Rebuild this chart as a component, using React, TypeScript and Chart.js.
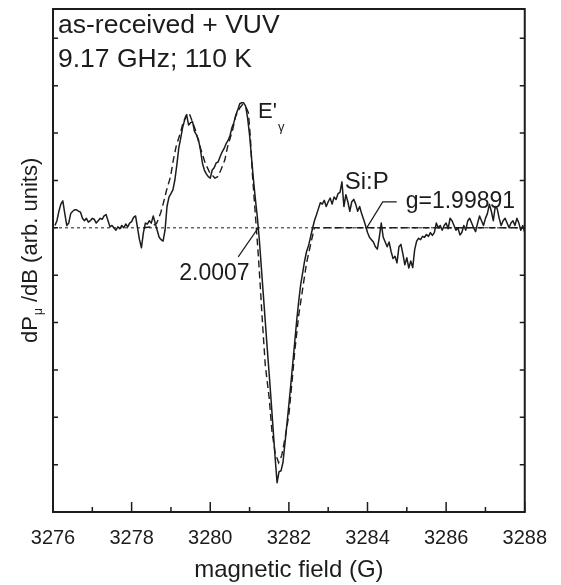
import React, { useEffect, useRef } from "react";
import { Chart, registerables } from "chart.js";

Chart.register(...registerables);

// ---------- data ----------
const fieldStart = 3276.05;
const fieldStep = 0.05;

// measured EPR derivative spectrum (arb. units), one value per field step
const spectrumValues = [
  0.05, 0.15, 0.35, 0.5, 0.57, 0.3, 0.05, 0.1, 0.3, 0.35,
  0.38, 0.38, 0.35, 0.33, 0.2, 0.15, 0.2, 0.12, 0.15, 0.2,
  0.18, 0.1, 0.15, 0.2, 0.18, 0.25, 0.28, 0.15, 0.02, 0.05,
  0.0, -0.05, 0.02, -0.02, 0.05, 0.0, 0.08, 0.02, 0.1, 0.13,
  0.22, 0.25, 0.0, -0.25, -0.42, -0.1, 0.1, 0.08, 0.15, 0.1,
  0.25, 0.1, -0.05, -0.2, -0.25, -0.28, -0.05,
  0.45, 0.65, 0.72, 0.8, 1.01, 1.33, 1.69, 1.9, 2.13, 2.28,
  2.38, 2.17, 2.22, 2.24, 2.03, 1.96, 1.86, 1.65, 1.37, 1.22,
  1.14, 1.08, 1.05, 1.22, 1.27, 1.37, 1.39, 1.5, 1.6, 1.67,
  1.77, 1.84, 1.94, 2.11, 2.22, 2.38, 2.49, 2.62, 2.64, 2.64,
  2.57, 2.32, 1.96, 1.48, 1.01, 0.59, 0.21, -0.27, -0.84, -1.41,
  -1.98, -2.55, -3.1, -3.67, -4.26, -4.85, -5.38, -5.15, -5.13, -4.95,
  -4.55, -4.15, -3.73, -3.3, -2.85, -2.4, -1.95, -1.55, -1.2, -0.95,
  -0.7, -0.5, -0.38, -0.2, -0.02, 0.15, 0.27, 0.4, 0.53, 0.5,
  0.58, 0.45, 0.55, 0.63, 0.5, 0.65, 0.6, 0.72, 0.75, 0.97,
  0.45, 0.7, 0.55, 0.35, 0.55, 0.6, 0.5, 0.35, 0.45, 0.3,
  0.18, 0.05, -0.1, -0.2, -0.25, -0.3, -0.4, -0.45, -0.2, 0.1,
  -0.2, -0.3, -0.4, -0.3, -0.5, -0.65, -0.6, -0.74, -0.4, -0.35,
  -0.55, -0.78, -0.63, -0.85, -0.7, -0.84, -0.46, -0.28, -0.22, -0.25,
  -0.18, -0.2, -0.14, -0.18, -0.1, -0.16, -0.1, 0.1, 0.0, 0.05,
  -0.05, 0.05, 0.1, -0.02, 0.2, 0.15, 0.05, -0.05, 0.0, -0.15,
  -0.1, 0.05, -0.05, 0.15, 0.2, 0.1, 0.0, -0.08, 0.1, 0.25,
  0.15, 0.05, 0.2, 0.3, 0.5, 0.35, 0.15, 0.45, 0.4, 0.2,
  0.05, 0.15, 0.2, 0.1, 0.0, 0.1, 0.15, 0.05, 0.2, 0.1,
  -0.05, 0.05, -0.1,
];

// simulated fit (dashed)
const fitFields = [
  3278.3, 3278.5, 3278.64, 3278.74, 3278.81, 3278.89, 3278.99, 3279.06, 3279.14, 3279.24,
  3279.31, 3279.39, 3279.46, 3279.51, 3279.62, 3279.74, 3279.87, 3279.99, 3280.12, 3280.19,
  3280.27, 3280.37, 3280.44, 3280.57, 3280.64, 3280.75, 3280.82, 3280.9, 3280.97, 3281.02,
  3281.07, 3281.12, 3281.17, 3281.22, 3281.27, 3281.32, 3281.4, 3281.5, 3281.57, 3281.65,
  3281.74, 3281.82, 3281.9, 3282.0, 3282.08, 3282.15, 3282.25, 3282.33, 3282.45, 3282.58,
  3282.65, 3283.5, 3288.0,
];
const fitValues = [
  0, 0.02, 0.1, 0.32, 0.53, 0.8, 1.08, 1.43, 1.75, 2.0,
  2.22, 2.38, 2.43, 2.32, 2.07, 1.71, 1.37, 1.16, 1.05, 1.08,
  1.22, 1.43, 1.71, 2.07, 2.34, 2.53, 2.6, 2.57, 2.43, 1.92,
  1.16, 0.59, 0.02, -0.55, -1.2, -1.9, -2.9, -3.6, -4.3, -4.75,
  -4.96, -4.8, -4.45, -3.95, -3.25, -2.6, -1.85, -1.4, -0.74, -0.25,
  0, 0, 0,
];

const baselineFields = [3276, 3288];
const baselineValues = [0, 0];

const xMajorTicks = [3276, 3278, 3280, 3282, 3284, 3286, 3288];
const xMinorTicks = [3277, 3279, 3281, 3283, 3285, 3287];
const yTicks = [-6, -5, -4, -3, -2, -1, 0, 1, 2, 3, 4];

const headerLines = ["as-received + VUV", "9.17 GHz; 110 K"];
const crossingLabel = "2.0007";
const crossingField = 3281.22;
const siLabel = "Si:P";
const gLabel = "g=1.99891";
const gField = 3283.98;
const xTitle = "magnetic field (G)";

const FONT = '"Liberation Sans", Arial, Helvetica, sans-serif';
const INK = "#1c1c1c";

const overlayPlugin = {
  id: "overlay",
  afterDatasetsDraw(chart: any) {
    const { ctx, chartArea, scales } = chart;
    const xs = scales.x;
    const ys = scales.y;
    const { left, right, top, bottom } = chartArea;
    ctx.save();
    ctx.strokeStyle = INK;
    ctx.fillStyle = INK;

    // frame
    ctx.lineWidth = 2;
    ctx.strokeRect(left, top, right - left, bottom - top);

    // x ticks (inward)
    ctx.lineWidth = 1.5;
    ctx.beginPath();
    xMajorTicks.forEach((v) => {
      const px = xs.getPixelForValue(v);
      ctx.moveTo(px, bottom);
      ctx.lineTo(px, bottom - 10);
    });
    xMinorTicks.forEach((v) => {
      const px = xs.getPixelForValue(v);
      ctx.moveTo(px, bottom);
      ctx.lineTo(px, bottom - 5);
    });
    // y ticks left & right (inward)
    yTicks.forEach((v) => {
      const py = ys.getPixelForValue(v);
      ctx.moveTo(left, py);
      ctx.lineTo(left + 5, py);
      ctx.moveTo(right, py);
      ctx.lineTo(right - 5, py);
    });
    ctx.stroke();

    // header text
    ctx.font = `26.5px ${FONT}`;
    ctx.textBaseline = "alphabetic";
    ctx.textAlign = "left";
    ctx.fillText(headerLines[0], left + 5, top + 24);
    ctx.fillText(headerLines[1], left + 5, top + 58);

    // 2.0007 pointer
    const cx = xs.getPixelForValue(crossingField);
    const cy = ys.getPixelForValue(0);
    ctx.lineWidth = 1.2;
    ctx.beginPath();
    ctx.moveTo(cx, cy);
    ctx.lineTo(cx - 20, cy + 29);
    ctx.stroke();
    ctx.font = `23px ${FONT}`;
    ctx.fillText(crossingLabel, cx - 79, cy + 52);

    // g pointer
    const gx = xs.getPixelForValue(gField);
    const gy = ys.getPixelForValue(0);
    ctx.beginPath();
    ctx.moveTo(gx, gy);
    ctx.lineTo(gx + 16, gy - 26);
    ctx.lineTo(gx + 30, gy - 26);
    ctx.stroke();
    ctx.fillText(gLabel, gx + 39, gy - 20);

    // Si:P
    ctx.font = `24px ${FONT}`;
    ctx.fillText(siLabel, gx - 22, gy - 39);

    // E'_gamma
    ctx.font = `22px ${FONT}`;
    ctx.fillText("E'", 258, top + 109);
    ctx.font = `13px ${FONT}`;
    ctx.fillText("\u03b3", 278, top + 122);

    // y-axis title with subscript
    ctx.translate(37, 343);
    ctx.rotate(-Math.PI / 2);
    ctx.font = `22px ${FONT}`;
    ctx.fillText("dP", 0, 0);
    const w1 = ctx.measureText("dP").width;
    ctx.font = `12px ${FONT}`;
    ctx.fillText("\u03bc", w1 + 1, 5);
    const w2 = ctx.measureText("\u03bc").width;
    ctx.font = `22px ${FONT}`;
    ctx.fillText(" /dB (arb. units)", w1 + w2 + 1, 0);

    ctx.restore();
  },
};

export default function App() {
  const canvasRef = useRef<HTMLCanvasElement | null>(null);

  useEffect(() => {
    const canvas = canvasRef.current;
    if (!canvas) return;
    const spectrum = spectrumValues.map((v, i) => ({
      x: fieldStart + i * fieldStep,
      y: v,
    }));
    const fit = fitFields.map((f, i) => ({ x: f, y: fitValues[i] }));
    const base = baselineFields.map((f, i) => ({ x: f, y: baselineValues[i] }));

    const chart = new Chart(canvas, {
      type: "line",
      data: {
        datasets: [
          {
            data: base,
            borderColor: INK,
            borderWidth: 1,
            borderDash: [3, 3],
            pointRadius: 0,
          },
          {
            data: fit,
            borderColor: INK,
            borderWidth: 1.4,
            borderDash: [7, 4],
            pointRadius: 0,
            tension: 0,
          },
          {
            data: spectrum,
            borderColor: INK,
            borderWidth: 1.5,
            pointRadius: 0,
            tension: 0,
            borderJoinStyle: "round",
          },
        ],
      },
      options: {
        animation: false,
        responsive: false,
        devicePixelRatio: 1,
        parsing: true,
        layout: { padding: { left: 53, right: 30, top: 9, bottom: 0 } },
        plugins: {
          legend: { display: false },
          tooltip: { enabled: false },
        },
        scales: {
          x: {
            type: "linear",
            min: 3276,
            max: 3288,
            grid: { display: false, drawTicks: false },
            border: { display: false },
            ticks: {
              stepSize: 2,
              autoSkip: false,
              maxRotation: 0,
              padding: 14,
              color: INK,
              font: { family: FONT, size: 20 },
              callback: (v: any) => String(v),
            },
            title: {
              display: true,
              text: xTitle,
              color: INK,
              font: { family: FONT, size: 24 },
              padding: { top: 0, bottom: 0 },
            },
            afterFit: (scale: any) => {
              scale.height = 73;
            },
          },
          y: {
            type: "linear",
            display: false,
            min: -6,
            max: 4.62,
          },
        },
      },
      plugins: [overlayPlugin],
    });
    return () => chart.destroy();
  }, []);

  return (
    <div style={{ position: "fixed", left: 0, top: 0, width: 561, height: 585, background: "#fff" }}>
      <canvas ref={canvasRef} width={561} height={585} style={{ display: "block" }} />
    </div>
  );
}
